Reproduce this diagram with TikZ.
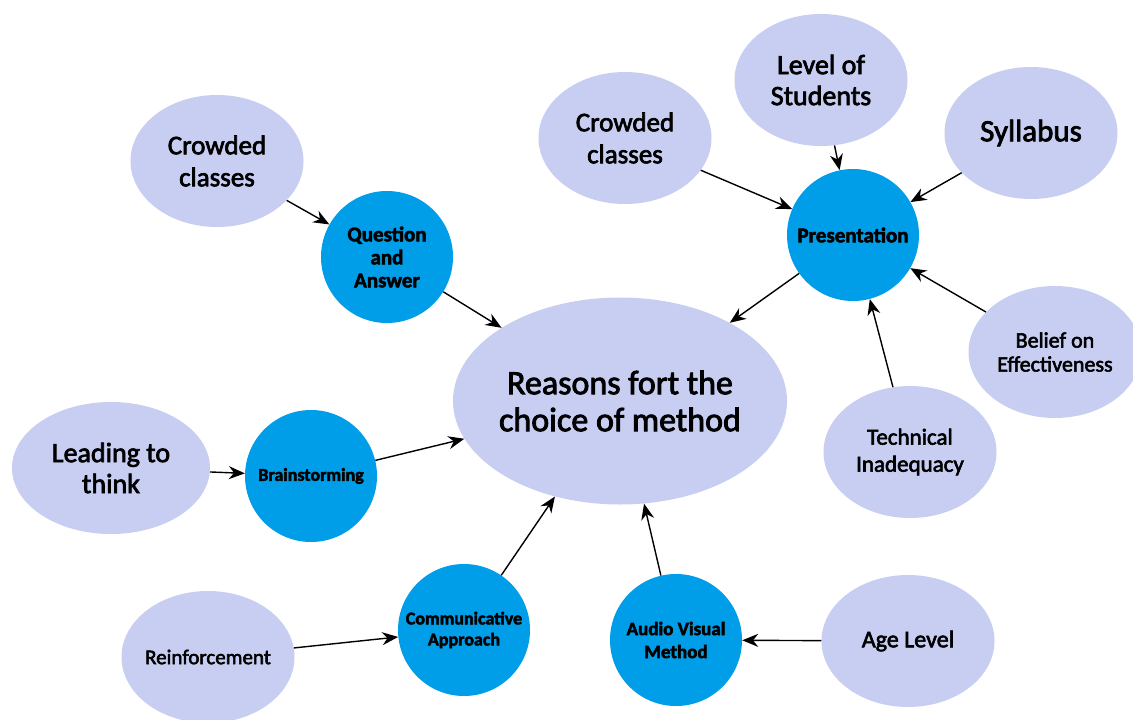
\documentclass[tikz,border=0pt]{standalone}
\usepackage{fontspec}
\setmainfont{Carlito}[FakeBold=2.5]
\usetikzlibrary{shapes.geometric}
\usetikzlibrary{arrows.meta}
\definecolor{lav}{RGB}{200,206,242}
\definecolor{skyblue}{RGB}{0,158,232}

\begin{document}
\begin{tikzpicture}[x=1pt,y=-1pt,
  reason/.style={ellipse, fill=lav, minimum width=173pt, minimum height=132pt, inner sep=-2pt, align=center},
  method/.style={circle, fill=skyblue, minimum size=132pt, inner sep=0pt, align=center},
  link/.style={-{Stealth[length=16pt,width=13pt]}, line width=1.4pt}]
\useasboundingbox (0,0) rectangle (1133,720);
\fill[white] (0,0) rectangle (1133,720);
% centre
\node[ellipse, fill=lav, minimum width=334pt, minimum height=207pt, inner sep=-3pt, align=center,
  font=\fontsize{34}{37}\selectfont] (choice) at (620,401) {Reasons fort the\\choice of method};
% methods
\node[method, font=\fontsize{21}{23}\selectfont\bfseries] (qa) at (387,257) {Question\\and\\Answer};
\node[method, font=\fontsize{21}{23}\selectfont\bfseries] (pres) at (853,235) {Presentation};
\node[method, font=\fontsize{18}{21}\selectfont\bfseries] (brain) at (311,476) {Brainstorming};
\node[method, font=\fontsize{18}{21}\selectfont\bfseries] (comm) at (464,630) {Communicative\\Approach};
\node[method, font=\fontsize{19}{23}\selectfont\bfseries] (av) at (676,640) {Audio Visual\\Method};
% reasons
\node[reason, font=\fontsize{27}{32}\selectfont] (crowdA) at (217,161) {Crowded\\classes};
\node[reason, font=\fontsize{27}{32}\selectfont] (crowdB) at (625,138) {Crowded\\classes};
\node[reason, font=\fontsize{28}{31}\selectfont] (level) at (821,80) {Level of\\Students};
\node[reason, font=\fontsize{31}{34}\selectfont] (syll) at (1031,133) {Syllabus};
\node[reason, font=\fontsize{22}{24}\selectfont] (belief) at (1055,352) {Belief on\\Effectiveness};
\node[reason, font=\fontsize{23}{27}\selectfont] (tech) at (910,452) {Technical\\Inadequacy};
\node[reason, minimum width=198pt, font=\fontsize{28}{31}\selectfont] (lead) at (111,468) {Leading to\\think};
\node[reason, font=\fontsize{21}{24}\selectfont] (reinf) at (208,657) {Reinforcement};
\node[reason, font=\fontsize{24}{27}\selectfont] (age) at (908,641) {Age Level};
% arrows
\draw[link] (crowdA) -- (qa);
\draw[link] (qa) -- (choice);
\draw[link] (crowdB) -- (pres);
\draw[link] (level) -- (pres);
\draw[link] (syll) -- (pres);
\draw[link] (belief) -- (pres);
\draw[link] (tech) -- (pres);
\draw[link] (pres) -- (choice);
\draw[link] (lead) -- (brain);
\draw[link] (brain) -- (choice);
\draw[link] (reinf) -- (comm);
\draw[link] (comm) -- (choice);
\draw[link] (age) -- (av);
\draw[link] (av) -- (choice);
\end{tikzpicture}
\end{document}
